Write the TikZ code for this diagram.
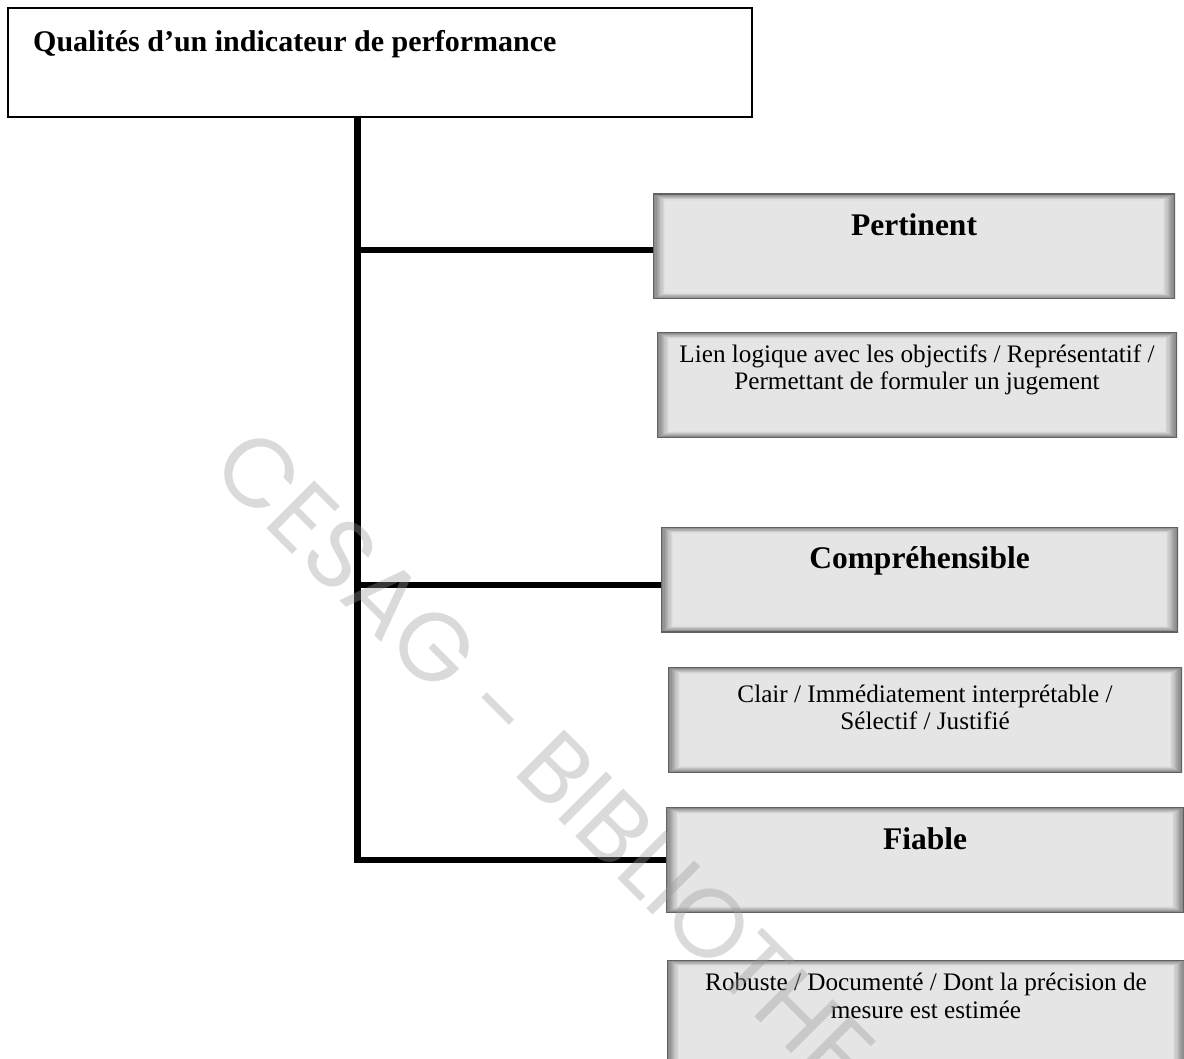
\documentclass[tikz,border=0pt]{standalone}
\usepackage{fontspec}
\setmainfont{Liberation Serif}
\newfontfamily\wmfont{Poppins}
\begin{document}
\begin{tikzpicture}[x=1pt,y=-1pt,
  conn/.style={line width=6.5pt, draw=black, line cap=butt, line join=miter},
  titlebox/.style={rectangle, draw=black, line width=1.3pt, fill=white, inner sep=0pt},
  bevel/.style={rectangle, inner sep=0pt, fill=black!10,
    minimum width=#1, minimum height=105pt,
    path picture={
      \foreach \i in {0,...,9}{
        \pgfmathsetmacro\tone{50-4.2*\i}
        \draw[black!\tone, line width=1.3pt]
          ([xshift=\i*1.2pt+0.6pt, yshift=\i*0.6pt+0.6pt]path picture bounding box.south west)
          rectangle
          ([xshift=-\i*1.2pt-0.6pt, yshift=-\i*0.6pt-0.6pt]path picture bounding box.north east);
      }
      \draw[black!62, line width=1.2pt]
        (path picture bounding box.south west) rectangle (path picture bounding box.north east);
    }},
  titletext/.style={inner sep=0pt, font=\fontsize{30}{34}\selectfont\bfseries},
  headtext/.style={inner sep=0pt, anchor=base, font=\fontsize{31.5}{35}\selectfont\bfseries},
  desctext/.style={inner sep=0pt, anchor=north, align=center,
    font=\fontsize{25.2}{27.5}\selectfont},
  watermark/.style={inner sep=0pt, text=black!40, opacity=0.36,
    font=\fontsize{97}{97}\selectfont\wmfont}
]
\path[use as bounding box] (0,0) rectangle (1184,1059);
\clip (0,0) rectangle (1184,1059);

% title frame
\node[titlebox, minimum width=744pt, minimum height=109pt] (top) at (380,62.5) {};
\node[titletext, anchor=base west] (toptext) at (33,52) {Qualités d’un indicateur de performance};

% quality boxes and their descriptions
\node[bevel=522pt] (pert) at (914,246.5) {};
\node[bevel=520pt] (pertD) at (917,385) {};
\node[bevel=517pt] (comp) at (919.5,579.5) {};
\node[bevel=514pt] (compD) at (925,720) {};
\node[bevel=518pt] (fiab) at (925,860) {};
\node[bevel=518pt, minimum height=110pt] (fiabD) at (926,1015) {};

% tree connectors
\coordinate (j1) at (357.5,250);
\coordinate (j2) at (357.5,585);
\coordinate (elbow) at (357.5,860);
\draw[conn] (top.south -| elbow) -- (elbow) -- (fiab.west);
\draw[conn] (j1) -- (j1 -| pert.west);
\draw[conn] (j2) -- (j2 -| comp.west);

% headings
\node[headtext] (pertT) at ([yshift=-42pt]pert.north) {Pertinent};
\node[headtext] (compT) at ([yshift=-42pt]comp.north) {Compréhensible};
\node[headtext] (fiabT) at ([yshift=-42pt]fiab.north) {Fiable};

% descriptions
\node[desctext] (pertDT) at ([yshift=-12pt]pertD.north)
  {Lien logique avec les objectifs / Représentatif /\\Permettant de formuler un jugement};
\node[desctext] (compDT) at ([yshift=-17pt]compD.north)
  {Clair / Immédiatement interprétable /\\Sélectif / Justifié};
\node[desctext] (fiabDT) at ([yshift=-13pt]fiabD.north)
  {Robuste / Documenté / Dont la précision de\\mesure est estimée};

% library stamp across the page
\node[watermark, rotate=-45] (stamp) at (608,830) {CESAG - BIBLIOTHEQUE};
\end{tikzpicture}
\end{document}
